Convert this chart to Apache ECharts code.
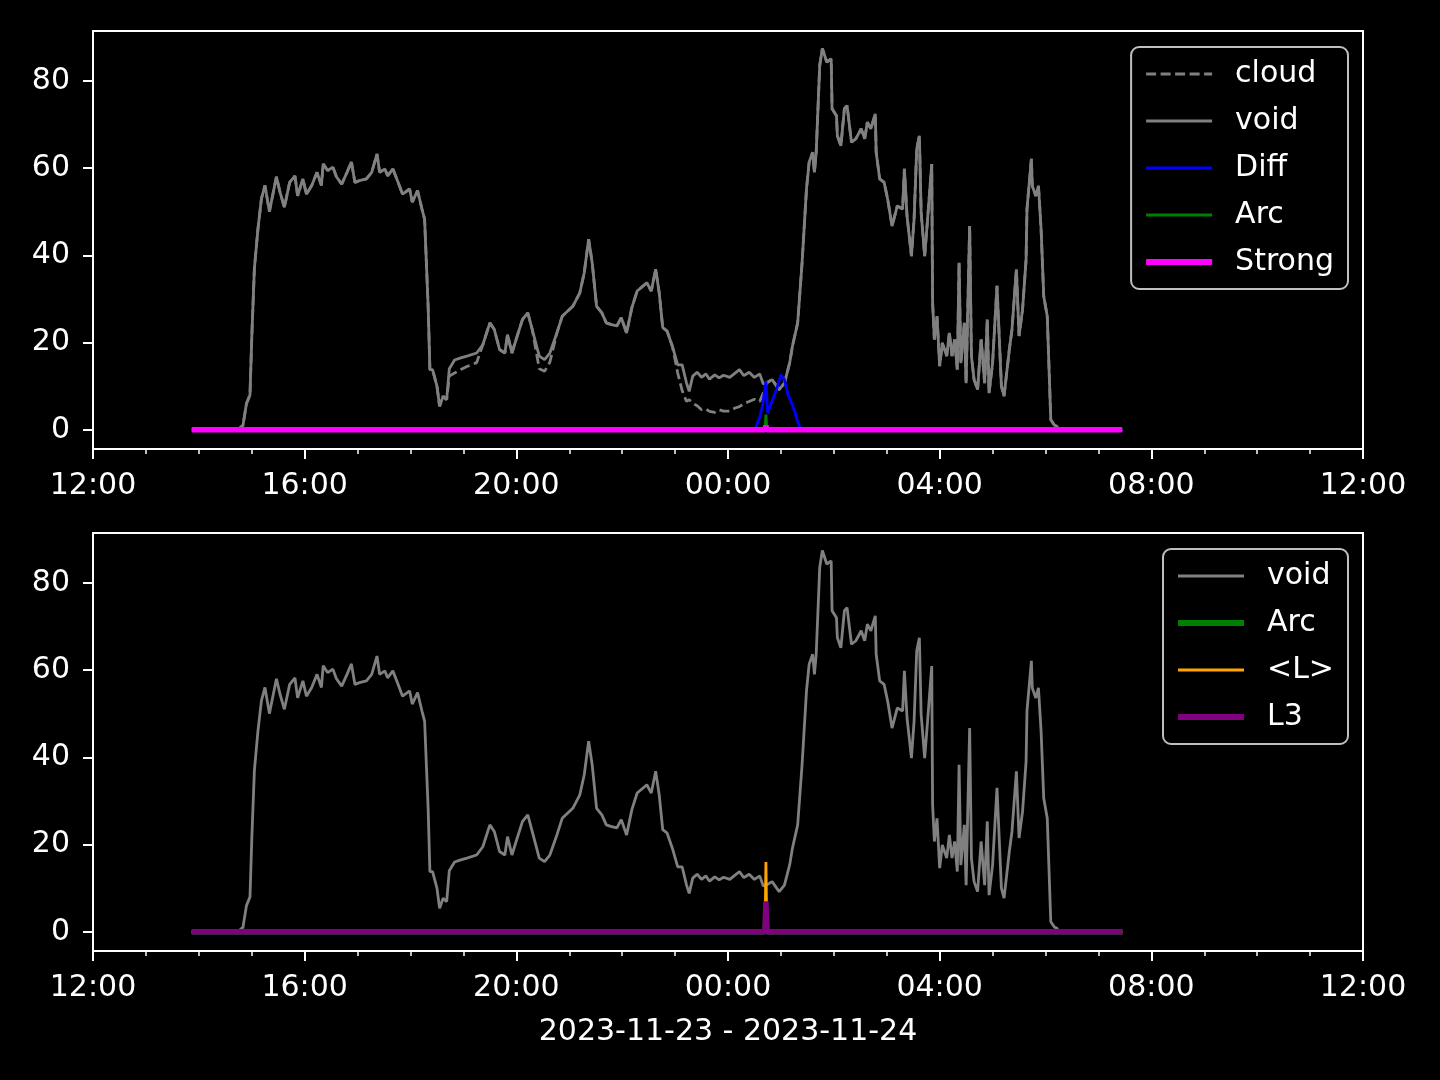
<!DOCTYPE html>
<html>
<head>
<meta charset="utf-8">
<script src="https://cdn.jsdelivr.net/npm/echarts@6/dist/echarts.min.js"></script>
<style>
html,body{margin:0;padding:0;background:#000;}
#c{width:1440px;height:1080px;}
</style>
</head>
<body>
<div id="c"></div>
<script>
// ---- data (clock times on 2023-11-23 -> 2023-11-24) ----
const times = [
"13:52","14:44","14:50","14:54","14:58","15:00","15:03","15:07","15:11","15:15",
"15:20","15:28","15:32","15:37","15:43","15:49","15:52","15:58","16:02","16:08",
"16:14","16:19","16:21","16:26","16:32","16:36","16:42","16:48","16:53","16:57",
"17:02","17:10","17:16","17:22","17:25","17:31","17:34","17:40","17:46","17:51",
"17:59","18:02","18:08","18:13","18:16","18:20","18:22","18:25","18:30","18:33",
"18:37","18:41","18:44","18:50","18:57","19:04","19:15","19:22","19:30","19:35",
"19:41","19:47","19:50","19:55","20:01","20:07","20:13","20:18","20:26","20:32",
"20:38","20:46","20:52","21:04","21:12","21:17","21:22","21:26","21:31","21:37",
"21:42","21:48","21:54","21:59","22:05","22:11","22:17","22:28","22:33","22:38",
"22:42","22:46","22:51","22:57","23:03","23:08","23:13","23:16","23:20","23:25",
"23:30","23:35","23:39","23:45","23:50","23:55","00:02","00:08","00:13","00:18",
"00:24","00:30","00:36","00:40","00:44","00:50","00:58","01:04","01:10","01:13",
"01:19","01:24","01:29","01:32","01:36","01:38","01:40","01:44","01:47","01:52",
"01:57","01:58","02:03","02:04","02:08","02:12","02:15","02:20","02:25","02:31",
"02:35","02:38","02:42","02:47","02:48","02:52","02:57","03:01","03:06","03:12",
"03:18","03:20","03:23","03:28","03:31","03:34","03:37","03:39","03:43","03:46",
"03:51","03:52","03:54","03:57","04:00","04:03","04:08","04:11","04:14","04:17",
"04:20","04:22","04:24","04:28","04:30","04:34","04:36","04:39","04:43","04:47",
"04:51","04:54","04:56","05:00","05:05","05:10","05:13","05:19","05:22","05:27",
"05:30","05:34","05:38","05:39","05:44","05:45","05:49","05:52","05:55","05:58",
"06:02","06:06","06:10","06:13","06:15","07:27"
];
const voidValues = [
0,0,1,6,8,21,37,46,53,56,
50,58,54.5,51,56.7,58.2,53.6,57.5,54,56,
59,56,61,59.4,60.2,58,56.3,59,61.4,56.7,
57.1,57.5,59,63.2,59,59.8,58.2,59.8,56.7,54,
55.2,52.2,54.8,50.6,48.3,28.3,13.8,13.8,10,5.4,
7.7,6.9,14,16,16.5,16.9,17.6,19.5,24.5,23,
18.4,17.6,21.8,17.6,21.5,25.3,26.8,23,16.9,16.1,
17.6,22.2,26,28.3,31.4,36,43.7,38.3,28.3,26.8,
24.5,24.1,23.8,25.7,22.2,28,31.8,33.7,31.8,36.8,
31.4,23.4,22.6,19.1,14.9,14.9,10.7,8.8,12.3,13.2,
12,12.8,11.6,12.6,11.9,12.5,12,13,13.8,12.4,
13.2,12,12.8,10.5,10.8,11.5,9.2,10.7,15.4,19.1,
24.5,38.3,55.2,61.3,63.6,59,63.6,83.5,87.4,84.3,
85,73.6,72,67.4,65.1,73.6,74.3,65.9,66.7,69,
66.7,70.5,69,72.4,63.6,57.5,56.7,52.9,46.7,51.3,
50.6,59.8,49,39.8,48.3,64.4,67.4,49.8,39.8,47.5,
60.9,29.1,20.7,26,14.6,19.9,16.9,22.2,16.9,20.7,
13.8,38.3,15.3,24.5,10.7,46.7,16.9,11.5,9.2,20.7,
10.7,25.3,8.4,15.3,33,10,7.7,18.4,23,36.8,
21.5,27.6,39.1,50.6,62.1,55.9,53.6,55.9,46,30.6,
26,2.3,1.1,0.8,0,0
];
const cloudValues = [
0,0,1,6,8,21,37,46,53,56,
50,58,54.5,51,56.7,58.2,53.6,57.5,54,56,
59,56,61,59.4,60.2,58,56.3,59,61.4,56.7,
57.1,57.5,59,63.2,59,59.8,58.2,59.8,56.7,54,
55.2,52.2,54.8,50.6,48.3,28.3,13.8,13.8,10,5.4,
7.7,6.9,12.3,13,13.8,14.5,15.4,19.5,24.5,23,
18.4,17.6,21.8,17.6,21.5,25.3,26.8,23,14,13.4,
15.5,22.2,26,28.3,31.4,36,43.7,38.3,28.3,26.8,
24.5,24.1,23.8,25.7,22.2,28,31.8,33.7,31.8,36.8,
31.4,23.4,22.6,19.1,13,9,6.5,6.9,6.1,5.5,
4.6,4.8,4.2,4.0,4.6,4.3,4.3,5.0,5.3,6.0,
6.5,7.0,6.5,8.5,10.8,11.5,9.2,10.7,15.4,19.1,
24.5,38.3,55.2,61.3,63.6,59,63.6,83.5,87.4,84.3,
85,73.6,72,67.4,65.1,73.6,74.3,65.9,66.7,69,
66.7,70.5,69,72.4,63.6,57.5,56.7,52.9,46.7,51.3,
50.6,59.8,49,39.8,48.3,64.4,67.4,49.8,39.8,47.5,
60.9,29.1,20.7,26,14.6,19.9,16.9,22.2,16.9,20.7,
13.8,38.3,15.3,24.5,10.7,46.7,16.9,11.5,9.2,20.7,
10.7,25.3,8.4,15.3,33,10,7.7,18.4,23,36.8,
21.5,27.6,39.1,50.6,62.1,55.9,53.6,55.9,46,30.6,
26,2.3,1.1,0.8,0,0
];
const diffTimes = ["13:52","00:30","00:32","00:36","00:39","00:43","00:45","00:49","00:55","01:00","01:04","01:08","01:13","01:15","01:19","01:21","01:23","07:27"];
const diffValues = [0,0,0.8,3,5.4,11.1,3.8,6.1,9.2,12.6,11.5,8,5.7,4.6,1.9,0.8,0,0];
const eventTimes = ["13:52","00:42","00:43","00:44","07:27"];
const arcValues = [0,0,3.5,0,0];
const strongValues = [0,0,1,0,0];
const lMeanValues = [0,0,16,0,0];
const l3Values = [0,0,7,0,0];
const yTicks = [0,20,40,60,80];
const dateLabel = "2023-11-23 - 2023-11-24";

// hours since 2023-11-23 12:00
function toH(t){const p=t.split(":");let h=+p[0]+(+p[1])/60;if(h<12)h+=24;return h-12;}
function pairs(ts,vs){return ts.map((t,i)=>[toH(t),vs[i]]);}

const FONT = "DejaVu Sans";
const WHITE = "#ffffff";
function xAx(idx, withName){
  const a = {
    type:'value', gridIndex:idx, min:0, max:24, interval:4,
    axisLine:{show:true,onZero:false,lineStyle:{color:WHITE,width:2}},
    axisTick:{show:true,length:10,lineStyle:{color:WHITE,width:2}},
    minorTick:{show:true,splitNumber:4,length:5,lineStyle:{color:WHITE,width:1.5}},
    splitLine:{show:false}, minorSplitLine:{show:false},
    axisLabel:{color:WHITE,fontSize:30,fontFamily:FONT,margin:22,
      formatter:v=>{const h=(12+Math.round(v))%24;return (h<10?'0':'')+h+':00';}}
  };
  if(withName){
    a.name = dateLabel; a.nameLocation='middle'; a.nameGap=66;
    a.nameTextStyle={color:WHITE,fontSize:30,fontFamily:FONT};
  }
  return a;
}
function yAx(idx){
  return {
    type:'value', gridIndex:idx, min:-4.4, max:91.4,
    axisLine:{show:true,onZero:false,lineStyle:{color:WHITE,width:2}},
    axisTick:{show:true,length:10,lineStyle:{color:WHITE,width:2},customValues:yTicks},
    splitLine:{show:false},
    axisLabel:{color:WHITE,fontSize:30,fontFamily:FONT,margin:23,customValues:yTicks}
  };
}
function line(name, xi, data, color, width, dash){
  return {name, type:'line', xAxisIndex:xi, yAxisIndex:xi, data, symbol:'none', showSymbol:false,
    animation:false, silent:true,
    lineStyle:{color, width, type: dash||'solid'}};
}
function legItem(name,color,width,dash){
  return {name, itemStyle:{opacity:0}, lineStyle:{color,width,type:dash||'solid',opacity:1}};
}
const DASH=[10,4.5];
const legendCommon = {
  orient:'vertical', selectedMode:false, backgroundColor:'#000', borderColor:'#bfbfbf',
  borderWidth:2, borderRadius:8, itemWidth:66, itemHeight:14, itemGap:17,
  itemStyle:{opacity:0},
  textStyle:{color:WHITE,fontSize:30,fontFamily:FONT,lineHeight:30,padding:[0,0,0,18]}
};

const option = {
  backgroundColor:'#000',
  animation:false,
  grid:[
    {left:93,width:1270,top:31,height:418,show:true,borderColor:WHITE,borderWidth:2,containLabel:false},
    {left:93,width:1270,top:533,height:418,show:true,borderColor:WHITE,borderWidth:2,containLabel:false}
  ],
  xAxis:[xAx(0,false), xAx(1,true)],
  yAxis:[yAx(0), yAx(1)],
  legend:[
    Object.assign({}, legendCommon, {right:92, top:47, padding:[12,14,12,12],
      data:[legItem('cloud','#808080',3,DASH), legItem('void','#808080',3), legItem('Diff','#0000ff',3),
            legItem('Arc','#008000',3), legItem('Strong','#ff00ff',6)]}),
    Object.assign({}, legendCommon, {right:92, top:549, padding:[12,14,12,12],
      data:[legItem('void','#808080',3), legItem('Arc','#008000',6), legItem('<L>','#ffa500',3),
            legItem('L3','#800080',6)]})
  ],
  series:[
    line('cloud',0,pairs(times,cloudValues),'#808080',2.8,DASH),
    line('void',0,pairs(times,voidValues),'#808080',2.8),
    line('Diff',0,pairs(diffTimes,diffValues),'#0000ff',2.8),
    line('Arc',0,pairs(eventTimes,arcValues),'#008000',2.8),
    line('Strong',0,pairs(eventTimes,strongValues),'#ff00ff',5.6),
    line('void',1,pairs(times,voidValues),'#808080',2.8),
    line('Arc',1,pairs(eventTimes,arcValues),'#008000',5.6),
    line('<L>',1,pairs(eventTimes,lMeanValues),'#ffa500',2.8),
    line('L3',1,pairs(eventTimes,l3Values),'#800080',5.6)
  ]
};
const chart = echarts.init(document.getElementById('c'), null, {renderer:'canvas'});
chart.setOption(option);
</script>
</body>
</html>
